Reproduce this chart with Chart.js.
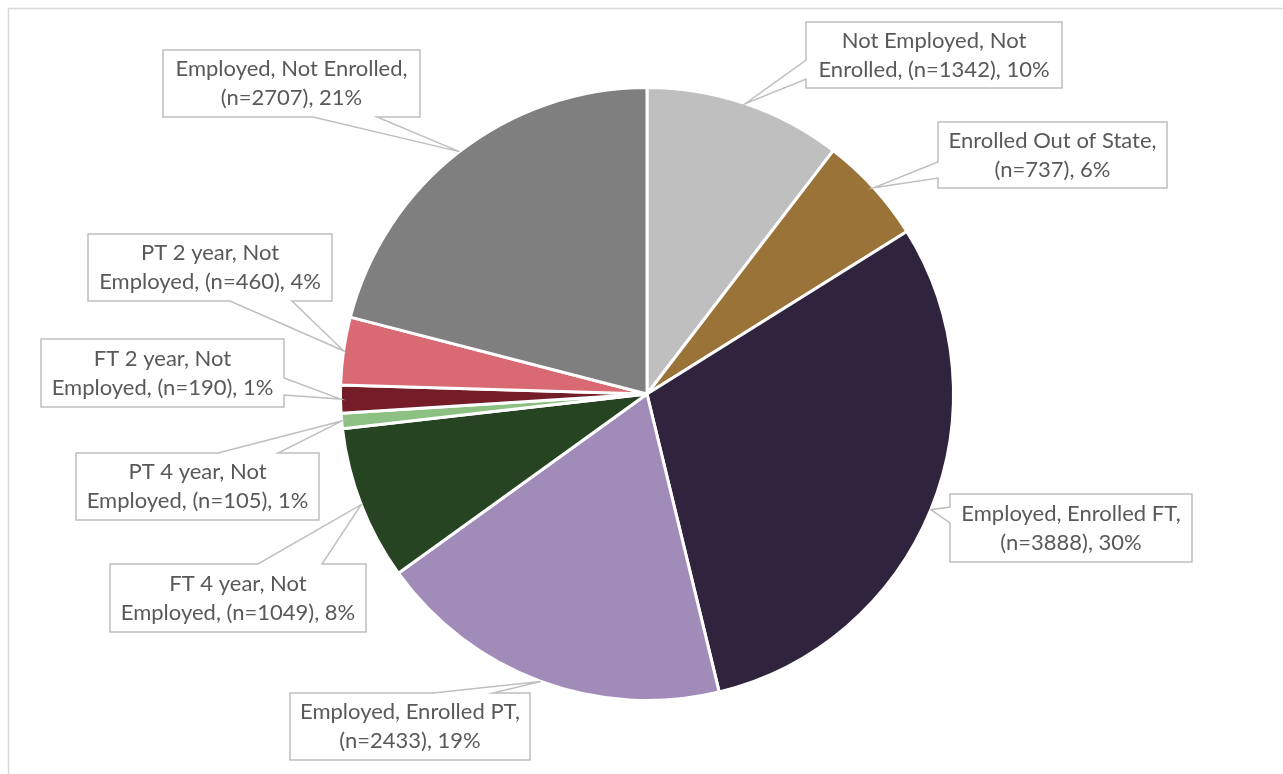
<!DOCTYPE html>
<html lang="en">
  <head>
    <meta charset="UTF-8" />
    <title>Post-Graduation Outcomes</title>
    <script src="https://cdn.jsdelivr.net/npm/chart.js"></script>
    <style>
      body {
        margin: 0;
        background: #ffffff;
        overflow: hidden;
      }
      .chart-container {
        position: absolute;
        left: 0;
        top: 0;
        width: 1283px;
        height: 774px;
      }
    </style>
  </head>
  <body>
    <div class="chart-container">
      <canvas id="outcomeChart" width="1283" height="774"></canvas>
    </div>

    <script>
      // Outcome groups, clockwise from 12 o'clock
      const categories = [
        "Not Employed, Not Enrolled",
        "Enrolled Out of State",
        "Employed, Enrolled FT",
        "Employed, Enrolled PT",
        "FT 4 year, Not Employed",
        "PT 4 year, Not Employed",
        "FT 2 year, Not Employed",
        "PT 2 year, Not Employed",
        "Employed, Not Enrolled",
      ];
      const counts = [1342, 737, 3888, 2433, 1049, 105, 190, 460, 2707];
      const sliceColors = [
        "#bfbfbf",
        "#9a7339",
        "#30233d",
        "#a18bb9",
        "#264421",
        "#8dc183",
        "#741c27",
        "#d96a73",
        "#7f7f7f",
      ];

      // Callout boxes: position, words on first line, and which side the pointer leaves from
      const callouts = [
        { x: 806, y: 22, w: 256, h: 66, words: 3, side: "left", a: 38, b: 57 },
        { x: 938, y: 122, w: 229, h: 66, words: 4, side: "left", a: 40, b: 56 },
        { x: 950, y: 494, w: 242, h: 68, words: 3, side: "left", a: 13, b: 29 },
        { x: 290, y: 693, w: 240, h: 67, words: 3, side: "top", a: 143, b: 203 },
        { x: 110, y: 564, w: 256, h: 68, words: 4, side: "top", a: 148, b: 212 },
        { x: 76, y: 453, w: 243, h: 67, words: 4, side: "top", a: 142, b: 202 },
        { x: 41, y: 339, w: 243, h: 68, words: 4, side: "right", a: 39, b: 56 },
        { x: 88, y: 234, w: 244, h: 67, words: 4, side: "bottom", a: 142, b: 204 },
        { x: 163, y: 50, w: 257, h: 67, words: 3, side: "bottom", a: 150, b: 214 },
      ];

      const total = counts.reduce((s, v) => s + v, 0);

      function labelLines(i) {
        const pct = Math.round((counts[i] / total) * 100);
        const words = (categories[i] + ", (n=" + counts[i] + "), " + pct + "%").split(" ");
        const n = callouts[i].words;
        return [words.slice(0, n).join(" "), words.slice(n).join(" ")];
      }

      function calloutPath(ctx, c, ax, ay) {
        const { x, y, w, h, a, b } = c;
        ctx.beginPath();
        ctx.moveTo(x, y);
        if (c.side === "top") {
          ctx.lineTo(x + a, y);
          ctx.lineTo(ax, ay);
          ctx.lineTo(x + b, y);
        }
        ctx.lineTo(x + w, y);
        if (c.side === "right") {
          ctx.lineTo(x + w, y + a);
          ctx.lineTo(ax, ay);
          ctx.lineTo(x + w, y + b);
        }
        ctx.lineTo(x + w, y + h);
        if (c.side === "bottom") {
          ctx.lineTo(x + b, y + h);
          ctx.lineTo(ax, ay);
          ctx.lineTo(x + a, y + h);
        }
        ctx.lineTo(x, y + h);
        if (c.side === "left") {
          ctx.lineTo(x, y + b);
          ctx.lineTo(ax, ay);
          ctx.lineTo(x, y + a);
        }
        ctx.closePath();
      }

      // Outer frame around the chart
      const framePlugin = {
        id: "frame",
        beforeDraw(chart) {
          const ctx = chart.ctx;
          ctx.save();
          ctx.strokeStyle = "#d9d9d9";
          ctx.lineWidth = 1.5;
          ctx.strokeRect(8.5, 8.5, 1400, 900);
          ctx.restore();
        },
      };

      // Data labels in boxes with pointers to the middle of each slice's rim
      const calloutPlugin = {
        id: "callouts",
        afterDatasetsDraw(chart) {
          const ctx = chart.ctx;
          const arcs = chart.getDatasetMeta(0).data;
          ctx.save();
          arcs.forEach((arc, i) => {
            const c = callouts[i];
            const mid = (arc.startAngle + arc.endAngle) / 2;
            const ax = arc.x + Math.cos(mid) * arc.outerRadius;
            const ay = arc.y + Math.sin(mid) * arc.outerRadius;
            calloutPath(ctx, c, ax, ay);
            ctx.fillStyle = "#ffffff";
            ctx.fill();
            ctx.strokeStyle = "#bfbfbf";
            ctx.lineWidth = 1.5;
            ctx.stroke();

            const lines = labelLines(i);
            ctx.fillStyle = "#595959";
            ctx.font = "22px Lato";
            ctx.textAlign = "center";
            ctx.textBaseline = "middle";
            const cx = c.x + c.w / 2;
            const cy = c.y + c.h / 2;
            ctx.fillText(lines[0], cx, cy - 14.5);
            ctx.fillText(lines[1], cx, cy + 14.5);
          });
          ctx.restore();
        },
      };

      const ctx = document.getElementById("outcomeChart").getContext("2d");
      new Chart(ctx, {
        type: "pie",
        data: {
          labels: categories,
          datasets: [
            {
              data: counts,
              backgroundColor: sliceColors,
              borderColor: "#ffffff",
              borderWidth: 3,
            },
          ],
        },
        options: {
          responsive: false,
          animation: false,
          layout: {
            padding: { top: 86, bottom: 72, left: 339, right: 328 },
          },
          plugins: {
            legend: { display: false },
            tooltip: { enabled: false },
          },
        },
        plugins: [framePlugin, calloutPlugin],
      });
    </script>
  </body>
</html>
